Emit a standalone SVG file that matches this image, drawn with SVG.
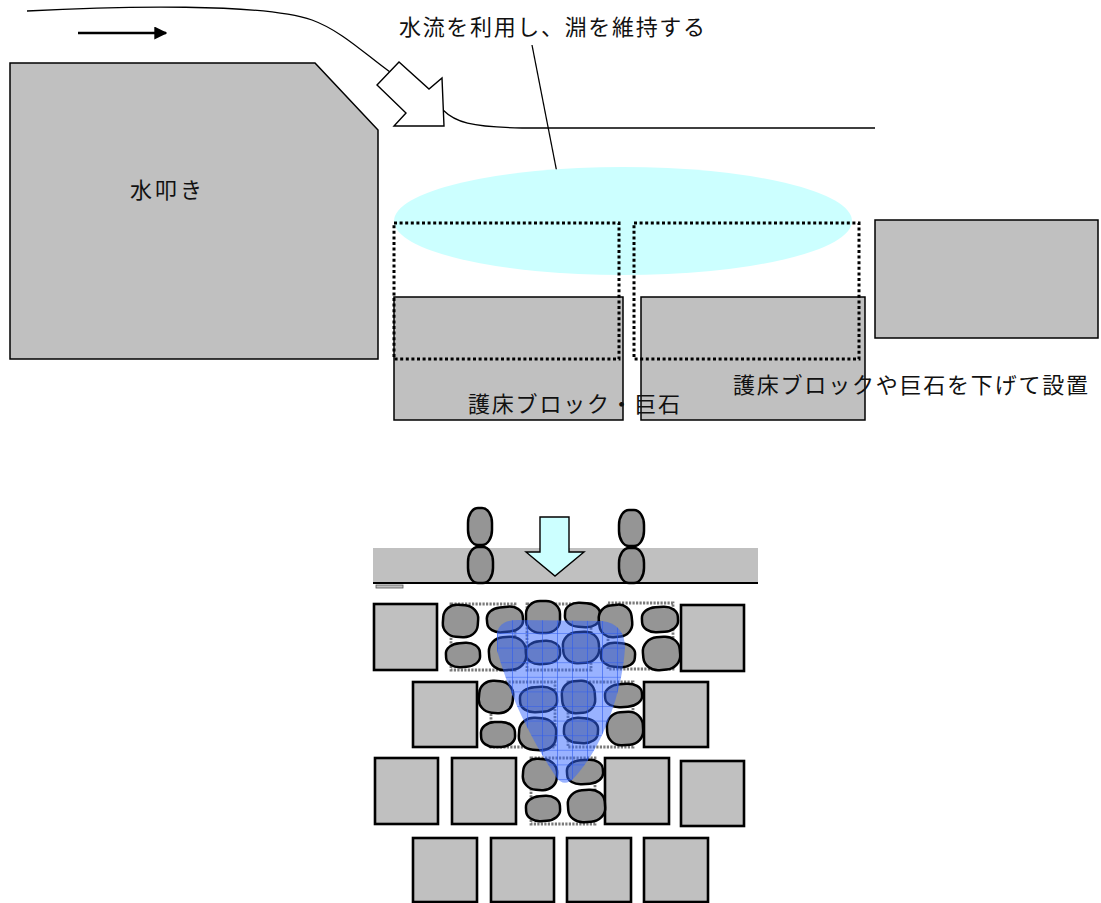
<svg xmlns="http://www.w3.org/2000/svg" width="1101" height="903" viewBox="0 0 1101 903">
  <style>
    .lbl { font-family: "Noto Sans CJK JP", "Noto Sans", sans-serif; font-size: 22px; fill: #111; }
    .blk { fill: #C0C0C0; stroke: #000; stroke-width: 1.5; }
    .blk2 { fill: #C0C0C0; stroke: #000; stroke-width: 2.6; }
    .dot { fill: none; stroke: #000; stroke-width: 3; stroke-dasharray: 3 2.6; }
    .gdot { fill: none; stroke: #7a7a7a; stroke-width: 2.8; stroke-dasharray: 2.2 1.3; }
    .stone { fill: #959595; stroke: #000; stroke-width: 2.5; }
    .ln { fill: none; stroke: #000; stroke-width: 1.3; }
  </style>
  <defs>
    <marker id="head" viewBox="0 0 10 10" refX="9" refY="5" markerWidth="5" markerHeight="5" orient="auto" markerUnits="strokeWidth">
      <path d="M0,0 L10,5 L0,10 Z" fill="#000"/>
    </marker>
    <pattern id="grid" x="512" y="633" width="15" height="14.6" patternUnits="userSpaceOnUse">
      <path d="M0,0 V14.6 M0,0 H15" fill="none" stroke="#2D5CF0" stroke-width="1.2"/>
    </pattern>
    <path id="pool" d="M497,636 Q497,620 518,620 L602,621 Q625,624 625,648 C622,692 604,745 574,778 Q564,788 556,777 C533,742 510,698 497,650 Z"/>
  </defs>

  <!-- upper section: side view -->
  <g id="connectors">
    <path class="ln" d="M27,11 C120,6 262,3 312,20 C342,31 366,55 390,72"/>
    <path class="ln" d="M443,110 C455,122 470,127 522,128 L875,128"/>
    <line x1="78" y1="33" x2="166" y2="33" stroke="#000" stroke-width="2.6" marker-end="url(#head)"/>
    <line class="ln" x1="532" y1="45" x2="558" y2="178"/>
    <line x1="714" y1="362" x2="714" y2="408" stroke="#000" stroke-width="1.6" marker-end="url(#head)"/>
  </g>

  <g id="apron">
    <polygon class="blk" points="10,63 315,63 378,130 378,359 10,359"/>
    <text class="lbl" x="130" y="198" textLength="72" lengthAdjust="spacing">水叩き</text>
  </g>

  <g id="flow-arrow">
    <polygon fill="#fff" stroke="#000" stroke-width="1.4" points="377,85 399,62 429,89 442,78 444,126 394,126 406,113"/>
  </g>

  <g id="pool-area">
    <ellipse cx="623" cy="221" rx="229" ry="54" fill="#CCFFFF"/>
  </g>

  <g id="blocks-top">
    <rect class="blk" x="394" y="297" width="229" height="123"/>
    <rect class="blk" x="641" y="297" width="224" height="123"/>
    <rect class="blk" x="875" y="220" width="223" height="118"/>
    <rect class="dot" x="394" y="223" width="225" height="136"/>
    <rect class="dot" x="634" y="223" width="225" height="136"/>
  </g>

  <g id="labels-top">
    <text class="lbl" x="399" y="35" textLength="306" lengthAdjust="spacing">水流を利用し、淵を維持する</text>
    <text class="lbl" x="468" y="412" textLength="212" lengthAdjust="spacing">護床ブロック・巨石</text>
    <text class="lbl" x="733" y="393" textLength="355" lengthAdjust="spacing">護床ブロックや巨石を下げて設置</text>
  </g>

  <!-- lower section: plan view -->
  <g id="weir">
    <rect x="373" y="548" width="385" height="35" fill="#C0C0C0"/>
    <line x1="373" y1="583" x2="758" y2="583" stroke="#000" stroke-width="2"/>
    <rect x="376" y="585" width="27" height="3" fill="#C0C0C0" stroke="#555" stroke-width="0.8"/>
    <rect class="stone" x="468" y="508" width="24" height="37" rx="10" ry="15"/>
    <rect class="stone" x="468" y="547" width="25" height="36" rx="10" ry="15"/>
    <rect class="stone" x="619" y="510" width="25" height="36" rx="10" ry="15"/>
    <rect class="stone" x="619" y="548" width="25" height="35" rx="10" ry="15"/>
    <polygon fill="#CCFFFF" stroke="#000" stroke-width="1.4" points="540,517 569,517 569,552 584,552 555,576 526,552 540,552"/>
  </g>

  <g id="blocks-plan">
    <rect class="blk2" x="374" y="604" width="63" height="66"/>
    <rect class="blk2" x="681" y="605" width="63" height="66"/>
    <rect class="blk2" x="413" y="682" width="64" height="65"/>
    <rect class="blk2" x="644" y="682" width="64" height="65"/>
    <rect class="blk2" x="375" y="758" width="63" height="66"/>
    <rect class="blk2" x="452" y="758" width="64" height="66"/>
    <rect class="blk2" x="605" y="758" width="64" height="66"/>
    <rect class="blk2" x="681" y="761" width="63" height="65"/>
    <rect class="blk2" x="413" y="838" width="64" height="64"/>
    <rect class="blk2" x="491" y="838" width="63" height="64"/>
    <rect class="blk2" x="567" y="838" width="64" height="64"/>
    <rect class="blk2" x="644" y="838" width="64" height="64"/>
  </g>

  <g id="dotted-cells">
    <rect class="gdot" x="451" y="604" width="64" height="66"/>
    <rect class="gdot" x="527" y="604" width="64" height="66"/>
    <rect class="gdot" x="608" y="603" width="65" height="66"/>
    <rect class="gdot" x="491" y="682" width="64" height="65"/>
    <rect class="gdot" x="568" y="682" width="65" height="65"/>
    <rect class="gdot" x="531" y="758" width="64" height="66"/>
  </g>

  <g id="stones">
    <rect class="stone" x="443" y="605" width="35" height="32" rx="14" ry="13" transform="rotate(4 460 621)"/>
    <rect class="stone" x="446" y="643" width="34" height="24" rx="14" ry="10" transform="rotate(-3 463 655)"/>
    <rect class="stone" x="487" y="607" width="36" height="25" rx="14" ry="10.5" transform="rotate(-5 505 620)"/>
    <rect class="stone" x="489" y="637" width="37" height="33" rx="15" ry="14" transform="rotate(-4 507 653)"/>
    <rect class="stone" x="526" y="601" width="34" height="32" rx="14" ry="13"/>
    <rect class="stone" x="526" y="641" width="34" height="23" rx="14" ry="10" transform="rotate(-3 543 652)"/>
    <rect class="stone" x="565" y="603" width="35" height="24" rx="14" ry="10" transform="rotate(3 582 615)"/>
    <rect class="stone" x="563" y="632" width="36" height="31" rx="14" ry="13" transform="rotate(-4 581 647)"/>
    <rect class="stone" x="599" y="605" width="33" height="32" rx="13" ry="13" transform="rotate(-6 615 621)"/>
    <rect class="stone" x="601" y="643" width="34" height="24" rx="14" ry="10" transform="rotate(4 618 655)"/>
    <rect class="stone" x="642" y="607" width="36" height="25" rx="14" ry="10.5" transform="rotate(-3 660 620)"/>
    <rect class="stone" x="643" y="637" width="37" height="33" rx="15" ry="14" transform="rotate(-5 661 653)"/>
    <rect class="stone" x="479" y="681" width="34" height="32" rx="14" ry="13" transform="rotate(5 496 697)"/>
    <rect class="stone" x="481" y="722" width="34" height="25" rx="14" ry="10.5" transform="rotate(-2 498 734)"/>
    <rect class="stone" x="520" y="687" width="37" height="25" rx="15" ry="10.5" transform="rotate(-3 538 699)"/>
    <rect class="stone" x="519" y="718" width="37" height="32" rx="15" ry="13" transform="rotate(4 537 734)"/>
    <rect class="stone" x="562" y="681" width="33" height="32" rx="13" ry="13" transform="rotate(-4 578 697)"/>
    <rect class="stone" x="564" y="718" width="34" height="25" rx="14" ry="10.5" transform="rotate(3 581 730)"/>
    <rect class="stone" x="605" y="684" width="37" height="23" rx="15" ry="10" transform="rotate(-4 623 695)"/>
    <rect class="stone" x="607" y="712" width="36" height="33" rx="14" ry="14" transform="rotate(-3 625 728)"/>
    <rect class="stone" x="523" y="759" width="34" height="31" rx="14" ry="13" transform="rotate(4 540 774)"/>
    <rect class="stone" x="567" y="760" width="36" height="24" rx="14" ry="10" transform="rotate(-4 585 772)"/>
    <rect class="stone" x="526" y="796" width="34" height="25" rx="14" ry="10.5" transform="rotate(-3 543 808)"/>
    <rect class="stone" x="568" y="790" width="37" height="32" rx="15" ry="13" transform="rotate(-4 586 806)"/>
  </g>

  <g id="pool-plan">
    <use href="#pool" fill="#3366FF" fill-opacity="0.5"/>
    <use href="#pool" fill="url(#grid)"/>
  </g>
</svg>
